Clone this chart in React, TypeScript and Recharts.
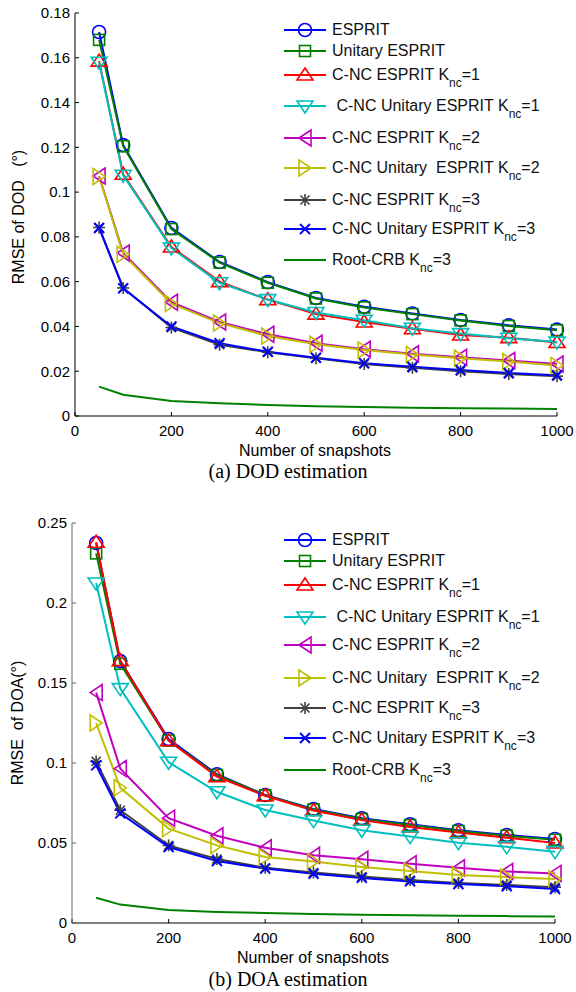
import React from 'react';
import { LineChart, Line, XAxis, YAxis } from 'recharts';

const snapshots = [50, 100, 200, 300, 400, 500, 600, 700, 800, 900, 1000];

// (a) DOD estimation
const dodEsprit = [0.1715, 0.121, 0.084, 0.0688, 0.0598, 0.0527, 0.0488, 0.0458, 0.0429, 0.0405, 0.0386];
const dodUnitary = [0.168, 0.1205, 0.0835, 0.0685, 0.0595, 0.0525, 0.0485, 0.0455, 0.0427, 0.0402, 0.0383];
const dodCnc1 = [0.1585, 0.108, 0.0755, 0.06, 0.052, 0.0455, 0.042, 0.039, 0.0362, 0.035, 0.0328];
const dodCncU1 = [0.158, 0.1075, 0.075, 0.0595, 0.052, 0.0462, 0.0428, 0.0392, 0.0368, 0.0347, 0.033];
const dodCnc2 = [0.1072, 0.0728, 0.0508, 0.042, 0.0365, 0.0325, 0.0298, 0.0278, 0.0262, 0.0248, 0.0232];
const dodCncU2 = [0.107, 0.0722, 0.0502, 0.0415, 0.0357, 0.032, 0.0295, 0.0275, 0.0258, 0.0243, 0.0226];
const dodCnc3 = [0.0842, 0.0572, 0.0395, 0.0318, 0.0285, 0.0258, 0.0232, 0.0215, 0.02, 0.0188, 0.0178];
const dodCncU3 = [0.084, 0.057, 0.04, 0.0325, 0.0287, 0.026, 0.0236, 0.022, 0.0206, 0.0192, 0.0182];
const dodCrb = [0.0131, 0.0095, 0.0067, 0.0057, 0.0049, 0.0044, 0.004, 0.0037, 0.0035, 0.0033, 0.0031];

// (b) DOA estimation
const doaEsprit = [0.2375, 0.1637, 0.115, 0.093, 0.08, 0.0712, 0.0655, 0.0617, 0.058, 0.055, 0.0525];
const doaUnitary = [0.231, 0.162, 0.114, 0.0925, 0.0798, 0.071, 0.065, 0.0612, 0.0575, 0.0545, 0.052];
const doaCnc1 = [0.238, 0.164, 0.114, 0.0915, 0.0795, 0.0703, 0.0643, 0.06, 0.0565, 0.0533, 0.05];
const doaCncU1 = [0.2125, 0.1465, 0.1005, 0.082, 0.0706, 0.064, 0.058, 0.054, 0.0502, 0.0476, 0.0446];
const doaCnc2 = [0.144, 0.0965, 0.0655, 0.0545, 0.047, 0.0423, 0.0398, 0.037, 0.0345, 0.0322, 0.031];
const doaCncU2 = [0.125, 0.0845, 0.059, 0.0485, 0.0412, 0.0385, 0.035, 0.0325, 0.03, 0.0287, 0.0275];
const doaCnc3 = [0.101, 0.0705, 0.0485, 0.04, 0.0345, 0.0315, 0.029, 0.0268, 0.025, 0.0238, 0.0224];
const doaCncU3 = [0.0985, 0.0685, 0.0475, 0.0388, 0.034, 0.0308, 0.0282, 0.026, 0.0243, 0.023, 0.0212];
const doaCrb = [0.0158, 0.0115, 0.0081, 0.0069, 0.0062, 0.0057, 0.0052, 0.0048, 0.0045, 0.0043, 0.0041];

const seriesNames = [
  'ESPRIT',
  'Unitary ESPRIT',
  'C-NC ESPRIT K_nc=1',
  ' C-NC Unitary ESPRIT K_nc=1',
  'C-NC ESPRIT K_nc=2',
  'C-NC Unitary  ESPRIT K_nc=2',
  'C-NC ESPRIT K_nc=3',
  'C-NC Unitary ESPRIT K_nc=3',
  'Root-CRB K_nc=3',
];
const seriesColors = ['#0000ff', '#008000', '#ff0000', '#00bfbf', '#bf00bf', '#bfbf00', '#404040', '#0000ff', '#008000'];
const seriesShapes = ['circle', 'square', 'up', 'down', 'left', 'right', 'star', 'x', 'none'];

const dodTicks = [0, 0.02, 0.04, 0.06, 0.08, 0.1, 0.12, 0.14, 0.16, 0.18];
const doaTicks = [0, 0.05, 0.1, 0.15, 0.2, 0.25];
const xTicks = [0, 200, 400, 600, 800, 1000];

const dodSeries = [dodEsprit, dodUnitary, dodCnc1, dodCncU1, dodCnc2, dodCncU2, dodCnc3, dodCncU3, dodCrb];
const doaSeries = [doaEsprit, doaUnitary, doaCnc1, doaCncU1, doaCnc2, doaCncU2, doaCnc3, doaCncU3, doaCrb];

const buildRows = (series: number[][]) =>
  snapshots.map((n, i) => {
    const row: any = { n };
    series.forEach((s, k) => (row['s' + k] = s[i]));
    return row;
  });

const SANS = '"Liberation Sans", Arial, sans-serif';
const SERIF = '"Liberation Serif", "Times New Roman", serif';

function Marker({ shape, x, y, color }: { shape: string; x: number; y: number; color: string }) {
  const p = { fill: 'none', stroke: color, strokeWidth: 1.6 };
  switch (shape) {
    case 'circle':
      return <circle cx={x} cy={y} r={6.5} {...p} />;
    case 'square':
      return <rect x={x - 5.5} y={y - 5.5} width={11} height={11} {...p} />;
    case 'up':
      return <polygon points={`${x},${y - 7} ${x + 8},${y + 5} ${x - 8},${y + 5}`} {...p} />;
    case 'down':
      return <polygon points={`${x - 8},${y - 5} ${x + 8},${y - 5} ${x},${y + 7}`} {...p} />;
    case 'left':
      return <polygon points={`${x - 6},${y} ${x + 6},${y - 8} ${x + 6},${y + 8}`} {...p} />;
    case 'right':
      return <polygon points={`${x + 6},${y} ${x - 6},${y - 8} ${x - 6},${y + 8}`} {...p} />;
    case 'star':
      return (
        <g {...p}>
          <line x1={x} y1={y - 6} x2={x} y2={y + 6} />
          <line x1={x - 6} y1={y} x2={x + 6} y2={y} />
          <line x1={x - 4.5} y1={y - 4.5} x2={x + 4.5} y2={y + 4.5} />
          <line x1={x - 4.5} y1={y + 4.5} x2={x + 4.5} y2={y - 4.5} />
        </g>
      );
    case 'x':
      return (
        <g {...p} strokeWidth={2}>
          <line x1={x - 5} y1={y - 5} x2={x + 5} y2={y + 5} />
          <line x1={x - 5} y1={y + 5} x2={x + 5} y2={y - 5} />
        </g>
      );
    default:
      return null;
  }
}

const makeDot = (shape: string, color: string, id: string) => (props: any) => {
  const { cx, cy, index } = props;
  return (
    <g key={`${id}-${index}`}>
      <Marker shape={shape} x={cx} y={cy} color={color} />
    </g>
  );
};

function LegendLabel({ text }: { text: string }) {
  const [main, rest] = text.split('_nc');
  return (
    <span style={{ whiteSpace: 'pre' }}>
      {main}
      {rest !== undefined && (
        <>
          <span style={{ fontSize: 12, position: 'relative', top: 7 }}>nc</span>
          {rest}
        </>
      )}
    </span>
  );
}

function ChartLegend({ top, rowsY }: { top: number; rowsY: number[] }) {
  return (
    <>
      {seriesNames.map((name, k) => (
        <div
          key={name}
          style={{
            position: 'absolute',
            left: 284,
            top: top + rowsY[k] - 9,
            height: 18,
            display: 'flex',
            alignItems: 'center',
            fontFamily: SANS,
            fontSize: 16,
            color: '#111',
          }}
        >
          <svg width={44} height={18} style={{ overflow: 'visible' }}>
            <line x1={0} y1={9} x2={42} y2={9} stroke={seriesColors[k]} strokeWidth={2} />
            <Marker shape={seriesShapes[k]} x={21} y={9} color={seriesColors[k]} />
          </svg>
          <span style={{ marginLeft: 4 }}>
            <LegendLabel text={name} />
          </span>
        </div>
      ))}
    </>
  );
}

function Panel({
  top,
  height,
  marginTop,
  marginRight,
  yWidth,
  series,
  yMax,
  yTicks,
  yLineColor,
  id,
}: any) {
  const rows = buildRows(series);
  const tickStyle = { fontFamily: SANS, fontSize: 15, fill: '#000' };
  return (
    <div style={{ position: 'absolute', left: 0, top }}>
      <LineChart width={576} height={height} data={rows} margin={{ top: marginTop, right: marginRight, left: 0, bottom: 0 }}>
        <XAxis
          dataKey="n"
          type="number"
          domain={[0, 1000]}
          ticks={xTicks}
          height={24}
          tickSize={-4}
          tickMargin={13}
          stroke="#000"
          tick={tickStyle}
          interval={0}
        />
        <YAxis
          type="number"
          domain={[0, yMax]}
          ticks={yTicks}
          width={yWidth}
          tickSize={-4}
          tickMargin={9}
          stroke={yLineColor}
          tick={tickStyle}
          interval={0}
          tickFormatter={(v: number) => String(+v.toFixed(2))}
        />
        {series.map((_: number[], k: number) => (
          <Line
            key={k}
            dataKey={'s' + k}
            stroke={seriesColors[k]}
            strokeWidth={2}
            isAnimationActive={false}
            dot={seriesShapes[k] === 'none' ? false : makeDot(seriesShapes[k], seriesColors[k], id + k)}
            activeDot={false}
          />
        ))}
      </LineChart>
    </div>
  );
}

const centered = (left: number, top: number, extra: any = {}) => ({
  position: 'absolute' as const,
  left,
  top,
  transform: 'translate(-50%, -50%)',
  whiteSpace: 'pre' as const,
  ...extra,
});

export default function App() {
  return (
    <div style={{ position: 'absolute', left: 0, top: 0, width: 576, height: 992, background: '#fff' }}>
      <Panel top={0} height={440} marginTop={13} marginRight={19} yWidth={75} series={dodSeries} yMax={0.18} yTicks={dodTicks} yLineColor="#000" id="dod" />
      <ChartLegend top={0} rowsY={[30, 51, 75, 106, 138, 168, 200, 229, 260]} />
      <div style={centered(19, 217, { transform: 'translate(-50%, -50%) rotate(-90deg)', fontFamily: SANS, fontSize: 16 })}>
        {'RMSE of DOD\u00a0\u00a0\u00a0(\u00b0)'}
      </div>
      <div style={centered(315, 451, { fontFamily: SANS, fontSize: 16 })}>Number of snapshots</div>
      <div style={centered(288, 471, { fontFamily: SERIF, fontSize: 20 })}>(a) DOD estimation</div>

      <Panel top={480} height={467} marginTop={43} marginRight={21} yWidth={72} series={doaSeries} yMax={0.25} yTicks={doaTicks} yLineColor="#666" id="doa" />
      <ChartLegend top={480} rowsY={[60, 81, 105, 137, 165, 198, 228, 258, 290]} />
      <div style={centered(18, 723, { transform: 'translate(-50%, -50%) rotate(-90deg)', fontFamily: SANS, fontSize: 16 })}>
        {'RMSE\u00a0\u00a0of DOA(\u00b0)'}
      </div>
      <div style={centered(313, 958, { fontFamily: SANS, fontSize: 16 })}>Number of snapshots</div>
      <div style={centered(288, 979, { fontFamily: SERIF, fontSize: 20 })}>(b) DOA estimation</div>
    </div>
  );
}
